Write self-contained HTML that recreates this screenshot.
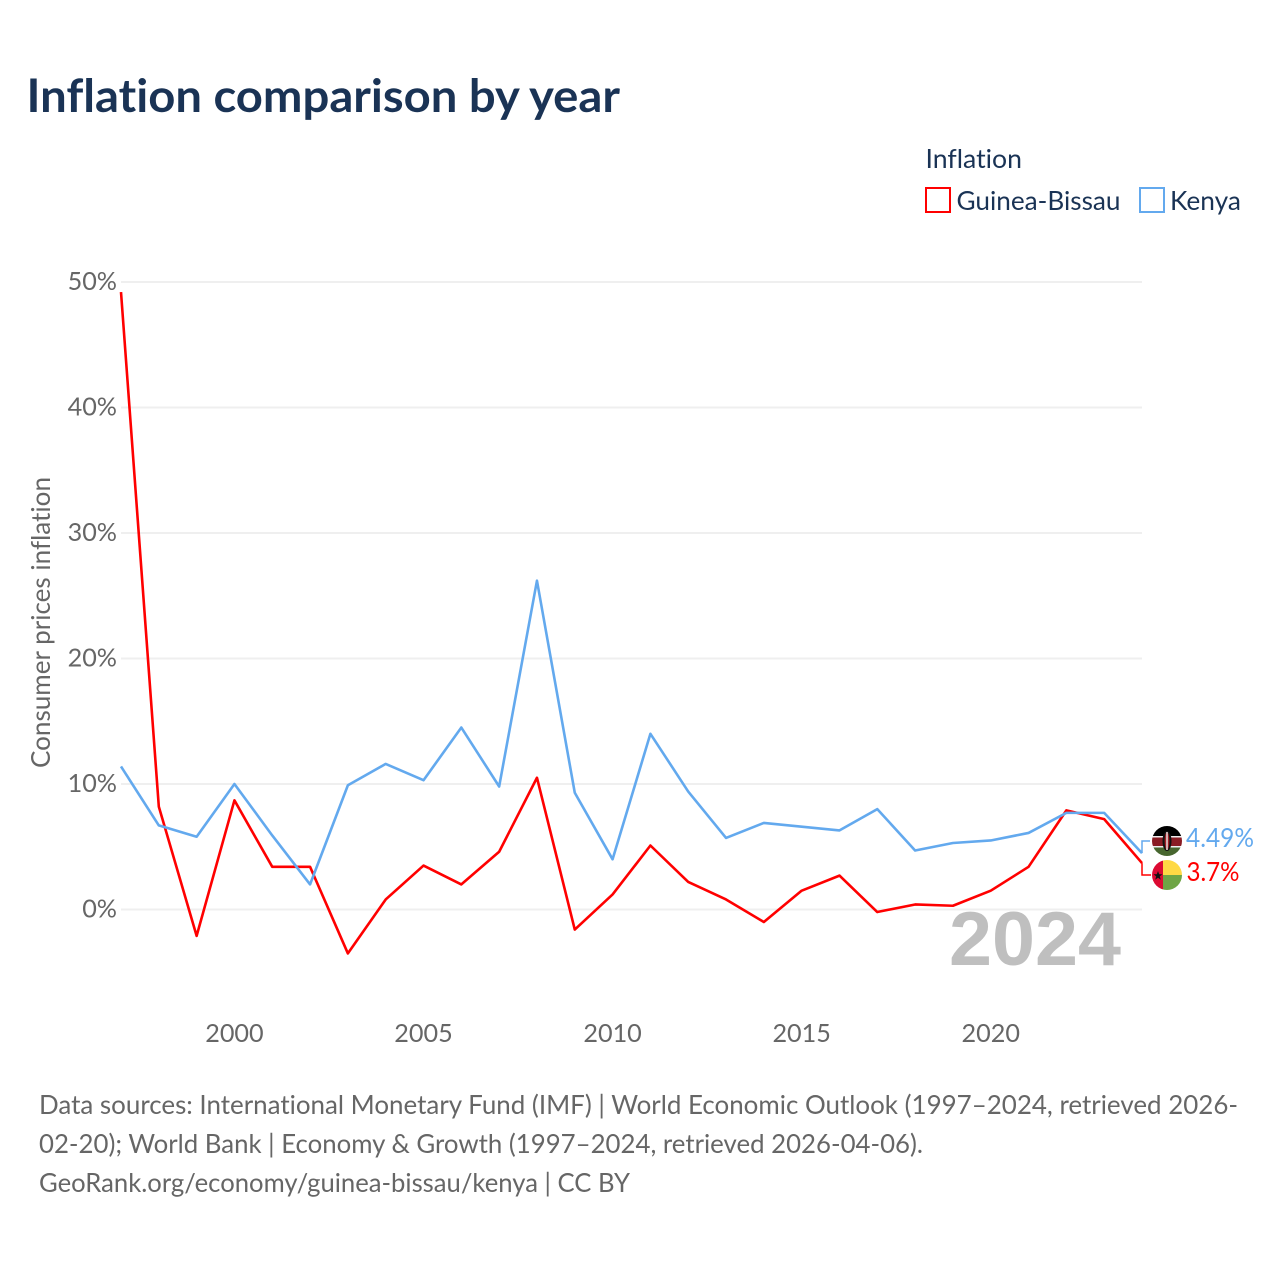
<!DOCTYPE html>
<html>
<head>
<meta charset="utf-8">
<title>Inflation comparison by year</title>
<style>
html,body{margin:0;padding:0;background:#fff;width:1280px;height:1280px;overflow:hidden}
svg{display:block}
text{font-family:"Lato","Carlito","Liberation Sans",sans-serif;font-variant-ligatures:none}
</style>
</head>
<body>
<svg id="chart" xmlns="http://www.w3.org/2000/svg" width="1280" height="1280" viewBox="0 0 1280 1280">
  <rect width="1280" height="1280" fill="#fff"/>
  <text x="26.5" y="112" font-size="46" font-weight="700" fill="#1a3355" textLength="593.5" lengthAdjust="spacingAndGlyphs">Inflation comparison by year</text>

  <text x="925.5" y="168" font-size="26" fill="#1a3355" textLength="96.5" lengthAdjust="spacingAndGlyphs">Inflation</text>
  <rect x="926" y="188" width="24" height="24" fill="#fff" stroke="#ff0000" stroke-width="2"/>
  <text x="956.5" y="210" font-size="26" fill="#1a3355" textLength="164" lengthAdjust="spacingAndGlyphs">Guinea-Bissau</text>
  <rect x="1140" y="188" width="24" height="24" fill="#fff" stroke="#63a9ee" stroke-width="2"/>
  <text x="1170" y="210" font-size="26" fill="#1a3355" textLength="71" lengthAdjust="spacingAndGlyphs">Kenya</text>

  <text transform="translate(50,622.5) rotate(-90)" text-anchor="middle" font-size="26" fill="#666" textLength="291" lengthAdjust="spacingAndGlyphs">Consumer prices inflation</text>

  <g id="grid"></g>
  <g id="yticks"></g>
  <g id="xticks"></g>

  <text x="1121" y="965" text-anchor="end" font-size="76" font-weight="700" fill="#bfbfbf" style="font-family:'Liberation Sans',sans-serif" textLength="172" lengthAdjust="spacingAndGlyphs">2024</text>

  <g id="series"></g>
  <g id="end-labels"></g>

  <defs>
    <clipPath id="clip-ke"><circle cx="1167" cy="841" r="15"/></clipPath>
    <clipPath id="clip-gw"><circle cx="1167" cy="875" r="15"/></clipPath>
  </defs>

  <g clip-path="url(#clip-ke)">
    <rect x="1152" y="826" width="30" height="10" fill="#000"/>
    <rect x="1152" y="836" width="30" height="1.5" fill="#eee"/>
    <rect x="1152" y="837.500" width="30" height="8.5" fill="#8a1c24"/>
    <rect x="1152" y="846" width="30" height="1.5" fill="#eee"/>
    <rect x="1152" y="847.500" width="30" height="9.5" fill="#47662f"/>
    <ellipse cx="1167" cy="841" rx="4.5" ry="10" fill="#111"/>
    <ellipse cx="1167" cy="841" rx="2.4" ry="9" fill="#a02028"/>
    <rect x="1166.300" y="832" width="1.4" height="18" fill="#eee"/>
  </g>
  <g clip-path="url(#clip-gw)">
    <rect x="1152" y="860" width="11" height="30" fill="#dc0a32"/>
    <rect x="1163" y="860" width="19" height="15" fill="#ffd944"/>
    <rect x="1163" y="875" width="19" height="15" fill="#6fa545"/>
    <polygon points="1158,871 1159.200,874.300 1162.500,874.300 1159.800,876.400 1160.800,879.700 1158,877.700 1155.200,879.700 1156.200,876.400 1153.500,874.300 1156.800,874.300" fill="#111"/>
  </g>

  <text x="39" y="1114" font-size="26" fill="#666" textLength="1199" lengthAdjust="spacingAndGlyphs">Data sources: International Monetary Fund (IMF) | World Economic Outlook (1997–2024, retrieved 2026-</text>
  <text x="39" y="1153" font-size="26" fill="#666" textLength="884" lengthAdjust="spacingAndGlyphs">02-20); World Bank | Economy &amp; Growth (1997–2024, retrieved 2026-04-06).</text>
  <text x="39" y="1192" font-size="26" fill="#666" textLength="591" lengthAdjust="spacingAndGlyphs">GeoRank.org/economy/guinea-bissau/kenya | CC BY</text>
</svg>
<script>
const years = [1997,1998,1999,2000,2001,2002,2003,2004,2005,2006,2007,2008,2009,2010,2011,2012,2013,2014,2015,2016,2017,2018,2019,2020,2021,2022,2023,2024];
const guineaBissau = [49.2,8.2,-2.1,8.7,3.4,3.4,-3.5,0.8,3.5,2.0,4.6,10.5,-1.6,1.2,5.1,2.2,0.8,-1.0,1.5,2.7,-0.2,0.4,0.3,1.5,3.4,7.9,7.2,3.7];
const kenya = [11.4,6.7,5.8,10.0,5.9,2.0,9.9,11.6,10.3,14.5,9.8,26.2,9.3,4.0,14.0,9.4,5.7,6.9,6.6,6.3,8.0,4.7,5.3,5.5,6.1,7.7,7.7,4.49];
const yTicks = [0,10,20,30,40,50];
const xTicks = [2000,2005,2010,2015,2020];

const NS = 'http://www.w3.org/2000/svg';
const x = v => 121 + (v - 1997) * (1142 - 121) / 27;
const y = v => 909.5 - v * (909.5 - 282) / 50;

function make(tag, parent, attrs, text) {
  const el = document.createElementNS(NS, tag);
  for (const k in attrs) el.setAttribute(k, attrs[k]);
  if (text !== undefined) el.textContent = text;
  parent.appendChild(el);
  return el;
}

const grid = document.getElementById('grid');
const yt = document.getElementById('yticks');
const xt = document.getElementById('xticks');
yTicks.forEach(t => {
  const line = make('line', grid, {x1: 121, x2: 1142, y1: y(t), y2: y(t), stroke: '#efefef', 'stroke-width': 2});
  
  
  const label = make('text', yt, {x: 117, y: y(t) + 8, 'text-anchor': 'end', 'font-size': 25.2, fill: '#666'}, t + '%');
  
  
});
xTicks.forEach(t => {
  const label = make('text', xt, {x: x(t), y: 1042, 'text-anchor': 'middle', 'font-size': 25.2, fill: '#666'}, t);
  
  
});

const series = document.getElementById('series');
function points(vals) {
  return vals.map((v, i) => x(years[i]).toFixed(2) + ',' + y(v).toFixed(2)).join(' ');
}
const lineG = make('polyline', series, {points: points(guineaBissau), fill: 'none', stroke: '#ff0000', 'stroke-width': 2.6, 'stroke-linejoin': 'round'});


const lineK = make('polyline', series, {points: points(kenya), fill: 'none', stroke: '#63a9ee', 'stroke-width': 2.6, 'stroke-linejoin': 'round'});



const ends = document.getElementById('end-labels');
const kEnd = kenya[kenya.length - 1];
const gEnd = guineaBissau[guineaBissau.length - 1];
const connK = make('polyline', ends, {points: `1142,${y(kEnd)} 1142,841 1150,841`, fill: 'none', stroke: '#63a9ee', 'stroke-width': 1.5});


const connG = make('polyline', ends, {points: `1142,${y(gEnd)} 1142,875 1151,875`, fill: 'none', stroke: '#ff0000', 'stroke-width': 1.5});


const labK = make('text', ends, {x: 1186, y: 847, 'font-size': 26, fill: '#63a9ee', textLength: 68, lengthAdjust: 'spacingAndGlyphs'}, kEnd + '%');


const labG = make('text', ends, {x: 1186.5, y: 881, 'font-size': 26, fill: '#ff0000', textLength: 53, lengthAdjust: 'spacingAndGlyphs'}, gEnd + '%');


</script>
</body>
</html>
